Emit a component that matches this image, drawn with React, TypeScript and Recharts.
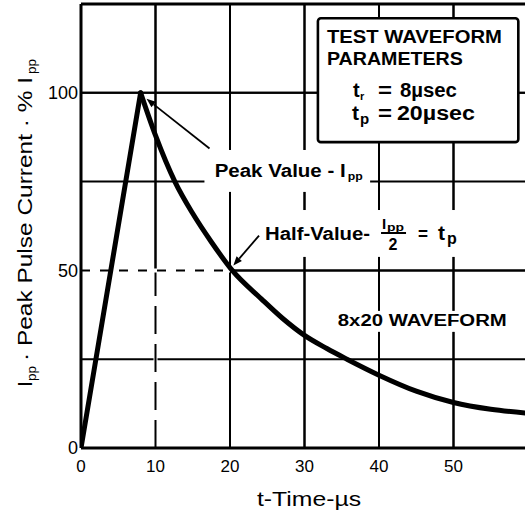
import React from "react";
import { CartesianGrid, Line, LineChart, ReferenceArea, XAxis, YAxis } from "recharts";

const FONT = "'Liberation Sans', Arial, Helvetica, sans-serif";

// rising edge and exponential-like tail
const riseTime = [0, 8];
const riseCurrent = [0, 100];
const decayTime = [8, 10, 12.6, 15, 17.5, 20.3, 24.2, 27, 30, 33, 35.7, 40, 45, 50, 55, 60];
const decayCurrent = [100, 88, 75, 66, 58, 50, 42, 36.6, 31.7, 28, 25, 20.5, 16, 12.8, 10.9, 9.8];

const xTicks = [0, 10, 20, 30, 40, 50];
const yTicks = [0, 50, 100];
const xGrid = [10, 20, 30, 40, 50];
const yGrid = [25, 50, 75, 100];
const xMax = 60;
const yMax = 125;

// annotation extents (data units); grid lines stop at them
const peakBox = { x1: 16.6, x2: 38.8, y1: 72.1, y2: 83.9 };
const halfBox = { x1: 24.3, x2: 51.1, y1: 53.8, y2: 67 };
const paramBox = { x1: 31.8, x2: 58.7, y1: 86.1, y2: 121 };
const waveBox = { x1: 34.2, x2: 57.6, y1: 32.7, y2: 38.6 };
const boxes = [peakBox, halfBox, paramBox, waveBox];

// arrow tail -> head, data units
const peakArrow = [17.25, 84.3, 8.8, 98.3];
const halfArrow = [23.9, 59.8, 20.45, 51.4];

const riseData = riseTime.map((t, i) => ({ t, v: riseCurrent[i] }));
const decayData = decayTime.map((t, i) => ({ t, v: decayCurrent[i] }));

function openRuns(lo: number, hi: number, cuts: [number, number][]) {
  const runs: [number, number][] = [];
  let start = lo;
  [...cuts]
    .sort((a, b) => a[0] - b[0])
    .forEach(([a, b]) => {
      if (a > start) runs.push([start, Math.min(a, hi)]);
      start = Math.max(start, b);
    });
  if (start < hi) runs.push([start, hi]);
  return runs;
}

type Seg = { x1: number; y1: number; x2: number; y2: number };
const gridSegs: Seg[] = [];
xGrid.forEach((x) => {
  const lo = x === 10 ? 50 : 0;
  const cuts = boxes.filter((b) => x > b.x1 && x < b.x2).map((b) => [b.y1, b.y2] as [number, number]);
  openRuns(lo, yMax, cuts).forEach(([a, b]) => gridSegs.push({ x1: x, y1: a, x2: x, y2: b }));
});
yGrid.forEach((y) => {
  const lo = y === 50 ? 20 : 0;
  const cuts = boxes.filter((b) => y > b.y1 && y < b.y2).map((b) => [b.x1, b.x2] as [number, number]);
  openRuns(lo, xMax, cuts).forEach(([a, b]) => gridSegs.push({ x1: a, y1: y, x2: b, y2: y }));
});
// dashed guide lines to the half-value point
const dashSegs = [
  { x1: 10, y1: 0, x2: 10, y2: 50, dash: "28 10" },
  { x1: 0, y1: 50, x2: 20, y2: 50, dash: "9 10" },
];

const T = ({ x, y, s, b = true, len, anchor, children }: any) => (
  <text
    x={x}
    y={y}
    fontSize={s}
    fontWeight={b ? 700 : 400}
    fontFamily={FONT}
    fill="#000"
    textAnchor={anchor}
    textLength={len}
    lengthAdjust={len ? "spacingAndGlyphs" : undefined}
  >
    {children}
  </text>
);

function Arrow({ x1, y1, x2, y2 }: any) {
  const d = Math.hypot(x2 - x1, y2 - y1) || 1;
  const ux = (x2 - x1) / d;
  const uy = (y2 - y1) / d;
  const L = 9;
  const W = 3.5;
  const bx = x2 - ux * L;
  const by = y2 - uy * L;
  return (
    <g>
      <line x1={x1} y1={y1} x2={bx} y2={by} stroke="#000" strokeWidth={1.8} />
      <polygon
        points={`${x2},${y2} ${bx - uy * W},${by + ux * W} ${bx + uy * W},${by - ux * W}`}
        fill="#000"
      />
    </g>
  );
}

// one reference area over the whole domain; its rect is the pixel frame of the scales
const overlay = (p: any) => {
  const { x, y, width, height } = p;
  const px = (v: number) => x + (v / xMax) * width;
  const py = (v: number) => y + height - (v / yMax) * height;
  const rectOf = (b: { x1: number; x2: number; y1: number; y2: number }) => ({
    x: px(b.x1),
    y: py(b.y2),
    w: px(b.x2) - px(b.x1),
    h: py(b.y1) - py(b.y2),
  });
  const pb = rectOf(paramBox);
  const kb = rectOf(peakBox);
  const hb = rectOf(halfBox);
  const wb = rectOf(waveBox);
  const bottom = y + height;
  return (
    <g>
      {gridSegs.map((s, i) => (
        <line key={i} x1={px(s.x1)} y1={py(s.y1)} x2={px(s.x2)} y2={py(s.y2)} stroke="#000" strokeWidth={2} />
      ))}
      {/* label backgrounds interrupt the grid */}
      {[kb, hb, wb].map((r, i) => (
        <rect key={`w${i}`} x={r.x} y={r.y} width={r.w} height={r.h} fill="#fff" />
      ))}
      {dashSegs.map((s, i) => (
        <g key={`d${i}`}>
          <line x1={px(s.x1)} y1={py(s.y1)} x2={px(s.x2)} y2={py(s.y2)} stroke="#fff" strokeWidth={4} />
          <line
            x1={px(s.x1)}
            y1={py(s.y1)}
            x2={px(s.x2)}
            y2={py(s.y2)}
            stroke="#000"
            strokeWidth={2}
            strokeDasharray={s.dash}
          />
        </g>
      ))}
      <line x1={x} y1={y} x2={x + width} y2={y} stroke="#000" strokeWidth={3} />

      <rect x={pb.x} y={pb.y} width={pb.w} height={pb.h} rx={3} fill="#fff" stroke="#000" strokeWidth={2.6} />
      <T x={pb.x + 9} y={pb.y + 25} s={18} len={175}>TEST WAVEFORM</T>
      <T x={pb.x + 9} y={pb.y + 47} s={18} len={136}>PARAMETERS</T>
      <T x={pb.x + 35} y={pb.y + 79} s={20}>t</T>
      <T x={pb.x + 42} y={pb.y + 82} s={11}>r</T>
      <T x={pb.x + 60} y={pb.y + 79} s={20} len={14}>=</T>
      <T x={pb.x + 82} y={pb.y + 79} s={20} len={57}>8µsec</T>
      <T x={pb.x + 34} y={pb.y + 102} s={21}>t</T>
      <T x={pb.x + 42} y={pb.y + 106} s={15}>p</T>
      <T x={pb.x + 60} y={pb.y + 102} s={20} len={14}>=</T>
      <T x={pb.x + 79} y={pb.y + 102} s={20} len={78}>20µsec</T>

      <T x={kb.x + 10} y={kb.y + 27} s={18} len={131}>Peak Value - I</T>
      <T x={kb.x + 143} y={kb.y + 30} s={11} len={15}>pp</T>

      <T x={hb.x + 3} y={hb.y + 30} s={18} len={105}>Half-Value-</T>
      <T x={hb.x + 120} y={hb.y + 19} s={15}>I</T>
      <T x={hb.x + 125} y={hb.y + 21} s={10} len={17}>pp</T>
      <line x1={hb.x + 119} y1={hb.y + 23} x2={hb.x + 144} y2={hb.y + 23} stroke="#000" strokeWidth={2} />
      <T x={hb.x + 131} y={hb.y + 40} s={16} anchor="middle">2</T>
      <T x={hb.x + 156} y={hb.y + 30} s={18} len={10}>=</T>
      <T x={hb.x + 176} y={hb.y + 30} s={21}>t</T>
      <T x={hb.x + 185} y={hb.y + 34} s={16}>p</T>

      <T x={wb.x + 2} y={wb.y + 15} s={16} len={169}>8x20 WAVEFORM</T>

      <Arrow x1={px(peakArrow[0])} y1={py(peakArrow[1])} x2={px(peakArrow[2])} y2={py(peakArrow[3])} />
      <Arrow x1={px(halfArrow[0])} y1={py(halfArrow[1])} x2={px(halfArrow[2])} y2={py(halfArrow[3])} />

      {/* axis titles */}
      <T x={x + 176} y={bottom + 58} s={21} b={false} len={104}>
        t-Time-µs
      </T>
      <g transform={`translate(${x - 49},${bottom - 61}) rotate(-90)`}>
        <T x={0} y={0} s={21} b={false}>I</T>
        <T x={6} y={4} s={13} b={false} len={15}>pp</T>
        <T x={26} y={0} s={21} b={false} len={284}>· Peak Pulse Current · % I</T>
        <T x={313} y={4} s={13} b={false} len={15}>pp</T>
      </g>
    </g>
  );
};

export default function App() {
  return (
    <div
      style={{
        position: "fixed",
        left: 0,
        top: 0,
        width: 525,
        height: 514,
        overflow: "hidden",
        background: "#fff",
      }}
    >
      <LineChart width={528} height={514} margin={{ top: 4, right: 0, bottom: 0, left: 0 }}>
        <CartesianGrid stroke="#000" strokeWidth={2} strokeOpacity={1} />
        <XAxis
          dataKey="t"
          type="number"
          domain={[0, xMax]}
          ticks={xTicks}
          allowDataOverflow
          height={66}
          tickSize={0}
          tickMargin={12}
          tickLine={false}
          axisLine={{ stroke: "#000", strokeWidth: 3 }}
          tick={{ fontSize: 17, fill: "#000", fontFamily: FONT }}
        />
        <YAxis
          type="number"
          domain={[0, yMax]}
          ticks={yTicks}
          allowDataOverflow
          width={81}
          tickSize={0}
          tickMargin={3}
          tickLine={false}
          axisLine={{ stroke: "#000", strokeWidth: 3 }}
          tick={{ fontSize: 18, fill: "#000", fontFamily: FONT }}
        />
        <ReferenceArea x1={0} x2={xMax} y1={0} y2={yMax} ifOverflow="visible" shape={overlay} />
        <Line
          data={riseData}
          dataKey="v"
          type="linear"
          stroke="#000"
          strokeWidth={5}
          strokeLinecap="round"
          dot={false}
          activeDot={false}
          isAnimationActive={false}
        />
        <Line
          data={decayData}
          dataKey="v"
          type="monotone"
          stroke="#000"
          strokeWidth={5}
          strokeLinecap="round"
          dot={false}
          activeDot={false}
          isAnimationActive={false}
        />
      </LineChart>
    </div>
  );
}
